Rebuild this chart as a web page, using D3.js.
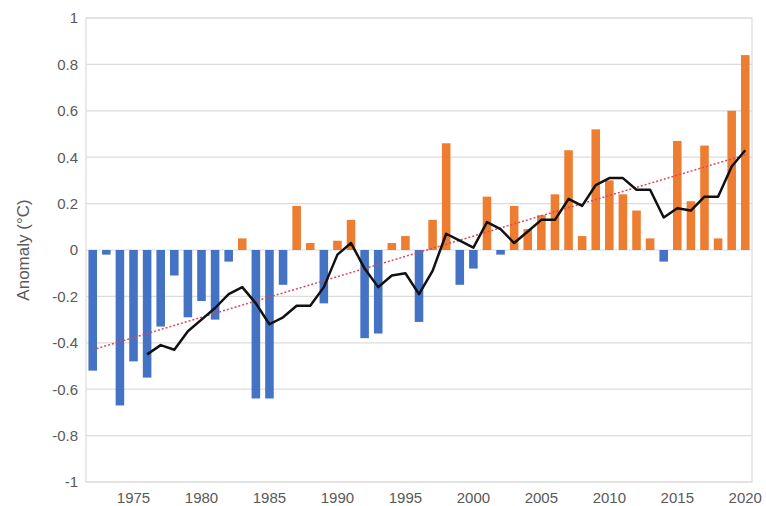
<!DOCTYPE html>
<html>
<head>
<meta charset="utf-8">
<script src="https://cdn.jsdelivr.net/npm/d3@7"></script>
<style>
  html, body { margin: 0; padding: 0; background: #fff; }
  svg text { font-family: "Liberation Sans", Arial, sans-serif; fill: #595959; }
</style>
</head>
<body>
<svg id="chart" width="766" height="506"></svg>
<script>
// Annual temperature anomaly (°C), 1972–2020
const years = d3.range(1972, 2021);
const anomaly = [
  -0.52, -0.02, -0.67, -0.48, -0.55, -0.33, -0.11, -0.29, -0.22, -0.30,
  -0.05,  0.05, -0.64, -0.64, -0.15,  0.19,  0.03, -0.23,  0.04,  0.13,
  -0.38, -0.36,  0.03,  0.06, -0.31,  0.13,  0.46, -0.15, -0.08,  0.23,
  -0.02,  0.19,  0.09,  0.15,  0.24,  0.43,  0.06,  0.52,  0.30,  0.24,
   0.17,  0.05, -0.05,  0.47,  0.21,  0.45,  0.05,  0.60,  0.84
];

// Five-year running mean, 1976–2020
const meanYears = d3.range(1976, 2021);
const runningMean = [
  -0.45, -0.41, -0.43, -0.35, -0.30, -0.25, -0.19, -0.16, -0.23, -0.32,
  -0.29, -0.24, -0.24, -0.16, -0.02,  0.03, -0.08, -0.16, -0.11, -0.10,
  -0.19, -0.09,  0.07,  0.04,  0.01,  0.12,  0.09,  0.03,  0.08,  0.13,
   0.13,  0.22,  0.19,  0.28,  0.31,  0.31,  0.26,  0.26,  0.14,  0.18,
   0.17,  0.23,  0.23,  0.36,  0.43
];

// Linear trend end points
const trendYears = [1972, 2020];
const trendValues = [-0.43, 0.41];

const yTicks = [-1, -0.8, -0.6, -0.4, -0.2, 0, 0.2, 0.4, 0.6, 0.8, 1];
const xTickYears = [1975, 1980, 1985, 1990, 1995, 2000, 2005, 2010, 2015, 2020];

const svg = d3.select("#chart");
const plotLeft = 86, plotRight = 752, plotTop = 18, plotBottom = 482;

const x = d3.scaleBand().domain(years).range([plotLeft, plotRight]).paddingInner(0.37).paddingOuter(0.18);
const y = d3.scaleLinear().domain([-1, 1]).range([plotBottom, plotTop]);
const cx = yr => x(yr) + x.bandwidth() / 2;

// Gridlines
svg.append("g")
  .selectAll("line").data(yTicks).join("line")
  .attr("x1", plotLeft).attr("x2", plotRight)
  .attr("y1", d => y(d)).attr("y2", d => y(d))
  .attr("stroke", "#dcdcdc").attr("stroke-width", 1.2);

// Plot frame
svg.append("rect")
  .attr("x", plotLeft).attr("y", plotTop)
  .attr("width", plotRight - plotLeft).attr("height", plotBottom - plotTop)
  .attr("fill", "none").attr("stroke", "#dcdcdc").attr("stroke-width", 1.2);

// Y axis labels
const yAxis = d3.axisLeft(y).tickValues(yTicks).tickSize(0).tickPadding(8)
  .tickFormat(d => String(+d.toFixed(1)));
svg.append("g")
  .attr("transform", `translate(${plotLeft},0)`)
  .call(yAxis)
  .call(g => g.select(".domain").remove())
  .call(g => g.selectAll("text")
    .attr("font-size", 15).attr("fill", "#595959")
    .attr("font-family", "Liberation Sans, Arial, sans-serif"));

// X axis labels
const xAxis = d3.axisBottom(x).tickValues(xTickYears).tickSize(0).tickPadding(10);
svg.append("g")
  .attr("transform", `translate(0,${plotBottom})`)
  .call(xAxis)
  .call(g => g.select(".domain").remove())
  .call(g => g.selectAll("text")
    .attr("font-size", 15).attr("fill", "#595959")
    .attr("font-family", "Liberation Sans, Arial, sans-serif"));

// Axis title
svg.append("text")
  .attr("transform", `translate(29,${(plotTop + plotBottom) / 2}) rotate(-90)`)
  .attr("text-anchor", "middle")
  .attr("font-size", 17)
  .text("Anomaly (°C)");

// Bars
const data = years.map((yr, i) => ({ yr, v: anomaly[i] }));
svg.append("g")
  .selectAll("rect").data(data).join("rect")
  .attr("x", d => x(d.yr))
  .attr("width", x.bandwidth())
  .attr("y", d => y(Math.max(0, d.v)))
  .attr("height", d => Math.abs(y(d.v) - y(0)))
  .attr("fill", d => d.v < 0 ? "#4472c4" : "#ed7d31");

// Trend line
svg.append("line")
  .attr("x1", cx(trendYears[0])).attr("y1", y(trendValues[0]))
  .attr("x2", cx(trendYears[1])).attr("y2", y(trendValues[1]))
  .attr("stroke", "#d9485a").attr("stroke-width", 1.5)
  .attr("stroke-dasharray", "2,2");

// Running mean
const line = d3.line().x(d => cx(d.yr)).y(d => y(d.v));
svg.append("path")
  .datum(meanYears.map((yr, i) => ({ yr, v: runningMean[i] })))
  .attr("d", line)
  .attr("fill", "none")
  .attr("stroke", "#111")
  .attr("stroke-width", 2.5)
  .attr("stroke-linejoin", "round");
</script>
</body>
</html>
